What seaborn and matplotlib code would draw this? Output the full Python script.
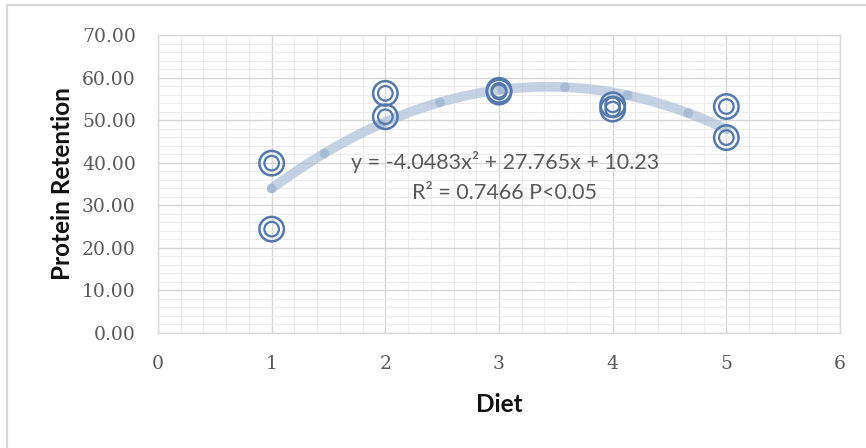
import numpy as np
import pandas as pd
import matplotlib
matplotlib.use("Agg")
import matplotlib.pyplot as plt
from matplotlib.patches import Rectangle
from matplotlib.ticker import MultipleLocator, FormatStrFormatter
import seaborn as sns

# Observations: protein retention per diet
diet = [1, 1, 2, 2, 3, 3, 4, 4, 5, 5]
retention = [39.9, 24.4, 56.3, 50.8, 56.6, 57.0, 53.6, 52.6, 53.2, 45.9]

# Quadratic trend line coefficients (a*x^2 + b*x + c)
coef_a, coef_b, coef_c = -4.0483, 27.765, 10.23
r_squared = 0.7466
p_label = "P<0.05"

x_ticks = [0, 1, 2, 3, 4, 5, 6]
y_ticks = [0, 10, 20, 30, 40, 50, 60, 70]

df = pd.DataFrame({"Diet": diet, "Protein Retention": retention})

sns.set_theme(style="white")
fig = plt.figure(figsize=(8.66, 4.48), dpi=100)
ax = fig.add_axes([158 / 866, 1 - 333 / 448, (840 - 158) / 866, (333 - 35) / 448])

# outer frame of the chart area
fig.patches.append(Rectangle((7 / 866, -0.1), 1.2, 1 - 5 / 448 + 0.1,
                             transform=fig.transFigure, fill=False,
                             edgecolor="#d9d9d9", linewidth=1.6))

ax.set_xlim(x_ticks[0], x_ticks[-1])
ax.set_ylim(y_ticks[0], y_ticks[-1])
ax.set_xticks(x_ticks)
ax.set_yticks(y_ticks)
ax.xaxis.set_minor_locator(MultipleLocator(0.2))
ax.yaxis.set_minor_locator(MultipleLocator(2))
ax.yaxis.set_major_formatter(FormatStrFormatter("%.2f"))
ax.grid(which="major", color="#d6d6d6", linewidth=1.0)
ax.grid(which="minor", color="#ececec", linewidth=0.8)
ax.set_axisbelow(True)
for s in ax.spines.values():
    s.set_color("#d9d9d9")
    s.set_linewidth(1.0)
ax.tick_params(which="both", length=0)
ax.tick_params(axis="y", pad=16, labelsize=13.5, labelcolor="#595959")
ax.tick_params(axis="x", pad=16, labelsize=13.5, labelcolor="#595959")
for lbl in ax.get_yticklabels() + ax.get_xticklabels():
    lbl.set_family("DejaVu Serif")

# trend line
xs = np.linspace(1, 5, 200)
ys = coef_a * xs ** 2 + coef_b * xs + coef_c
ax.plot(xs, ys, color="#a7bbd6", lw=7, alpha=0.65, solid_capstyle="round", zorder=2)
ax.plot(xs, ys, color="#8ea7c8", lw=7, alpha=0.5, linestyle=(0, (0.01, 6.5)),
        dash_capstyle="round", zorder=2)

# bullseye markers: outer ring plus inner ring
sns.scatterplot(data=df, x="Diet", y="Protein Retention", ax=ax, s=310,
                facecolor="none", edgecolor="#5478ab", linewidth=1.8, zorder=3)
sns.scatterplot(data=df, x="Diet", y="Protein Retention", ax=ax, s=110,
                facecolor="none", edgecolor="#5478ab", linewidth=1.6, zorder=3)

ax.set_xlabel("Diet", fontfamily="Lato", fontweight="bold", fontsize=17.5,
              color="#111111", labelpad=14)
ax.set_ylabel("Protein Retention", fontfamily="Lato", fontweight="bold", fontsize=17.5,
              color="#111111", labelpad=6)

eq_text = (f"y = {coef_a:.4f}x\u00b2 + {coef_b:.3f}x + {coef_c:.2f}\n"
           f"R\u00b2 = {r_squared:.4f} {p_label}")
ax.text(3.05, 36.6, eq_text, ha="center", va="center", fontfamily="Lato",
        fontsize=15.5, color="#595959", linespacing=1.6, zorder=4)

fig.savefig("out.png", dpi=100)
